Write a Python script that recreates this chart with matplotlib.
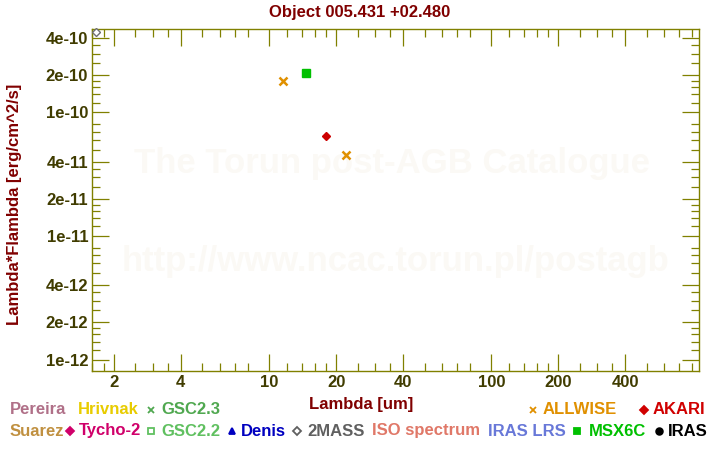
import matplotlib
matplotlib.use("Agg")
import matplotlib.pyplot as plt
from matplotlib.ticker import FixedLocator, NullFormatter, FixedFormatter

plt.rcParams['font.family'] = ['Liberation Sans', 'DejaVu Sans']
plt.rcParams['font.weight'] = 'bold'

# ---- data ----
title = "Object 005.431 +02.480"
twomass_wl = [1.67]
twomass_f = [4.46e-10]
allwise_wl = [11.56, 22.09]
allwise_f = [1.80e-10, 4.53e-11]
msx_wl = [14.65]
msx_f = [2.08e-10]
akari_wl = [18.0]
akari_f = [6.42e-11]

xticks = [2, 4, 10, 20, 40, 100, 200, 400]
xticklabels = ["2", "4", "10", "20", "40", "100", "200", "400"]
yticks = [1e-12, 2e-12, 4e-12, 1e-11, 2e-11, 4e-11, 1e-10, 2e-10, 4e-10]
yticklabels = ["1e-12", "2e-12", "4e-12", "1e-11", "2e-11", "4e-11", "1e-10", "2e-10", "4e-10"]
minor_mult = [1.2, 1.4, 1.6, 1.8, 2.5, 3, 3.5, 5, 6, 7, 8]

W, H = 720, 450
fig = plt.figure(figsize=(7.2, 4.5), dpi=100)
fig.patch.set_facecolor('white')

def fx(px):
    return px / W

def fy(py):
    return 1 - py / H

ax = fig.add_axes([fx(92.3), fy(371.3), (699.3 - 92.3) / W, (371.3 - 29.3) / H])
ax.set_xscale('log')
ax.set_yscale('log')
ax.set_xlim(1.6, 862)
ax.set_ylim(8.05e-13, 4.71e-10)

olive = '#808000'
tickcol = '#403c00'
for s in ax.spines.values():
    s.set_color(olive)
    s.set_linewidth(1.0)

ax.xaxis.set_major_locator(FixedLocator(xticks))
ax.xaxis.set_major_formatter(FixedFormatter(xticklabels))
ax.yaxis.set_major_locator(FixedLocator(yticks))
ax.yaxis.set_major_formatter(FixedFormatter(yticklabels))
xminor = [m * d for d in [1, 10, 100] for m in minor_mult]
yminor = [m * d for d in [1e-13, 1e-12, 1e-11, 1e-10] for m in minor_mult]
ax.xaxis.set_minor_locator(FixedLocator(xminor))
ax.yaxis.set_minor_locator(FixedLocator(yminor))
ax.xaxis.set_minor_formatter(NullFormatter())
ax.yaxis.set_minor_formatter(NullFormatter())
ax.tick_params(which='both', direction='in', top=True, right=True, color=olive, width=0.9)
ax.tick_params(which='major', length=12.2, pad=3, labelsize=12, labelcolor=tickcol)
ax.tick_params(which='minor', length=6.1)
for lab in ax.get_xticklabels() + ax.get_yticklabels():
    lab.set_fontweight('bold')

# watermark (under the data)
wm = '#fbf9f5'
ax.text(fx(392), fy(163), "The Torun post-AGB Catalogue", ha='center', va='center',
        fontsize=25, fontweight='bold', color=wm, zorder=0.5, transform=fig.transFigure)
ax.text(fx(395), fy(262), "http://www.ncac.torun.pl/postagb", ha='center', va='center',
        fontsize=25, fontweight='bold', color=wm, zorder=0.5, transform=fig.transFigure)

# data
ax.plot(twomass_wl, twomass_f, linestyle='none', marker='D', ms=4.2, mfc='white',
        mec='#707070', mew=1.0, clip_on=False, zorder=5)
ax.plot(allwise_wl, allwise_f, linestyle='none', marker='x', ms=5.5, mec='#e09000',
        mew=1.8, zorder=5)
ax.plot(msx_wl, msx_f, linestyle='none', marker='s', ms=5.2, mfc='#00c000',
        mec='#00c000', zorder=5)
ax.plot(akari_wl, akari_f, linestyle='none', marker='D', ms=4.4, mfc='#cc0000',
        mec='#cc0000', zorder=5)

# titles
darkred = '#800000'
fig.text(fx(360), fy(12), title, ha='center', va='center', fontsize=12,
         fontweight='bold', color=darkred)
fig.text(fx(361), fy(404), "Lambda [um]", ha='center', va='center', fontsize=12,
         fontweight='bold', color=darkred)
fig.text(fx(15), fy(204), "Lambda*Flambda [erg/cm^2/s]", ha='center', va='center',
         fontsize=12, fontweight='bold', color=darkred, rotation=90)

# legend block
leg_texts = [
    (10, 410, "Pereira", '#b07088'),
    (77.5, 410, "Hrivnak", '#e8cc00'),
    (161.5, 410, "GSC2.3", '#50a850'),
    (543, 410, "ALLWISE", '#e09000'),
    (653, 410, "AKARI", '#d00000'),
    (10, 431, "Suarez", '#c09040'),
    (78.5, 431, "Tycho-2", '#d0006a'),
    (161.5, 431, "GSC2.2", '#60c060'),
    (241, 431, "Denis", '#0000c0'),
    (307, 431, "2MASS", '#606060'),
    (371.5, 431, "ISO spectrum", '#e07868'),
    (488, 431, "IRAS LRS", '#6878d8'),
    (588.5, 431, "MSX6C", '#00c000'),
    (668, 431, "IRAS", '#000000'),
]
for x, y, t, c in leg_texts:
    fig.text(fx(x), fy(y), t, ha='left', va='center', fontsize=12,
             fontweight='bold', color=c)

ov = fig.add_axes([0, 0, 1, 1], facecolor='none')
ov.set_xlim(0, W)
ov.set_ylim(H, 0)
ov.axis('off')
leg_marks = [
    (151, 410, 'x', '#50a850', '#50a850', 4.5),
    (533, 410, 'x', '#e09000', '#e09000', 5.0),
    (644, 410, 'D', '#d00000', '#d00000', 3.8),
    (70, 431, 'D', '#d0006a', '#d0006a', 3.8),
    (151, 431, 's', 'white', '#60c060', 3.8),
    (232, 431, '^', '#0000c0', '#0000c0', 4.5),
    (297, 431, 'D', 'white', '#606060', 3.8),
    (577, 431, 's', '#00c000', '#00c000', 5.0),
    (659, 431, 'o', '#000000', '#000000', 4.8),
]
for x, y, m, fc, ec, s in leg_marks:
    ov.plot([x], [y], linestyle='none', marker=m, ms=s, mfc=fc, mec=ec, mew=1.3)

fig.savefig('out.png', dpi=100, facecolor='white')
